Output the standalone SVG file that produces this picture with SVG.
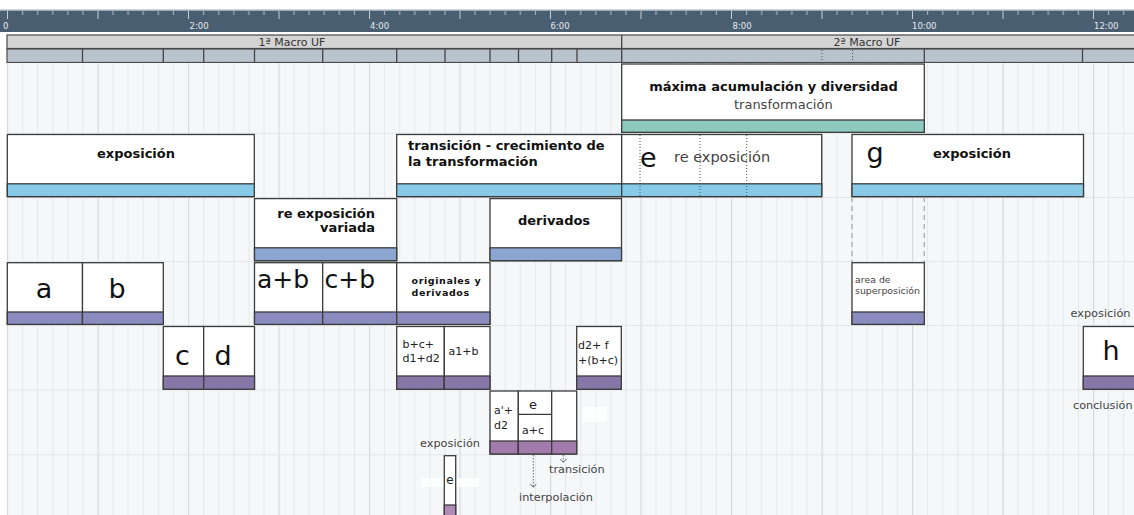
<svg xmlns="http://www.w3.org/2000/svg" width="1134" height="515" viewBox="0 0 1134 515">
<style>
text{font-family:"DejaVu Sans","Liberation Sans",sans-serif;}
.box{fill:#ffffff;stroke:#3c3c3c;stroke-width:1.3;}
.bar{stroke:#3c3c3c;stroke-width:1.3;}
.b0{fill:#8ec9c0;}.b1{fill:#88cbe9;}.b2{fill:#8ba6d0;}.b3{fill:#8a8cc0;}.b4{fill:#8777a9;}.b5{fill:#a27aab;}.b6{fill:#b28ab8;}
.tb{font-size:13px;font-weight:bold;fill:#111;}
.tn{font-size:13px;fill:#444;}
.big{font-size:27px;fill:#111;}
.mid{font-size:25px;fill:#111;}
.sm{font-size:11px;fill:#222;}
.lab{font-size:11.3px;fill:#444;}
.tick{font-size:8.5px;fill:#e6eaee;}
.hdr{font-size:11px;fill:#333;}
.div{stroke:#444;stroke-width:1.3;}
.dot{stroke:#555;stroke-width:1;stroke-dasharray:1,2;fill:none;}
.dash{stroke:#aaaaaa;stroke-width:1.3;stroke-dasharray:5,4;fill:none;}
.arr{stroke:#666;stroke-width:1;stroke-dasharray:1.5,1.5;fill:none;}
.chev{stroke:#666;stroke-width:1;fill:none;}
.hl{stroke:#e2e5e9;stroke-width:1;}
</style>
<defs>
<pattern id="grid" patternUnits="userSpaceOnUse" x="7" y="0" width="90.5" height="20">
<rect x="0" y="0" width="1.2" height="20" fill="#d6d9de"/>
<rect x="15.08" y="0" width="1" height="20" fill="#e3e6ea"/>
<rect x="30.17" y="0" width="1" height="20" fill="#e3e6ea"/>
<rect x="45.25" y="0" width="1" height="20" fill="#e3e6ea"/>
<rect x="60.33" y="0" width="1" height="20" fill="#e3e6ea"/>
<rect x="75.42" y="0" width="1" height="20" fill="#e3e6ea"/>
</pattern>
<pattern id="ticks" patternUnits="userSpaceOnUse" x="7" y="11" width="90.5" height="10">
<rect x="0" y="0" width="1" height="8" fill="#c4ccd4"/>
<rect x="15.08" y="0" width="1" height="4" fill="#b4bec8"/>
<rect x="30.17" y="0" width="1" height="4" fill="#b4bec8"/>
<rect x="45.25" y="0" width="1" height="4" fill="#b4bec8"/>
<rect x="60.33" y="0" width="1" height="4" fill="#b4bec8"/>
<rect x="75.42" y="0" width="1" height="4" fill="#b4bec8"/>
</pattern>
</defs>
<rect x="0" y="0" width="1134" height="515" fill="#ffffff"/>

<g id="ruler">
<rect x="0" y="10" width="1134" height="22" fill="#4a5e72"/>
<rect x="0" y="9.5" width="1134" height="1.5" fill="#9eaab6"/>
<rect x="0" y="11" width="1134" height="9" fill="url(#ticks)"/>
<text class="tick" x="3" y="29">0</text>
<text class="tick" x="189.5" y="29">2:00</text>
<text class="tick" x="370" y="29">4:00</text>
<text class="tick" x="550.5" y="29">6:00</text>
<text class="tick" x="732.5" y="29">8:00</text>
<text class="tick" x="912" y="29">10:00</text>
<text class="tick" x="1094" y="29">12:00</text>
</g>

<g id="macro-row">
<rect x="7" y="35" width="1130" height="13.5" fill="#d4d4d4" stroke="#4a4a4a" stroke-width="1.2"/>
<line class="div" x1="621.7" y1="35" x2="621.7" y2="48.5"/>
<text class="hdr" x="292" y="46.3" text-anchor="middle">1ª Macro UF</text>
<text class="hdr" x="867" y="46.3" text-anchor="middle">2ª Macro UF</text>
</g>

<g id="section-row">
<rect x="7" y="49" width="1130" height="13.5" fill="#b8c3cd" stroke="#4a4a4a" stroke-width="1.2"/>
<line class="div" x1="82.5" y1="49" x2="82.5" y2="62.5"/>
<line class="div" x1="163.3" y1="49" x2="163.3" y2="62.5"/>
<line class="div" x1="203.7" y1="49" x2="203.7" y2="62.5"/>
<line class="div" x1="254.5" y1="49" x2="254.5" y2="62.5"/>
<line class="div" x1="322.7" y1="49" x2="322.7" y2="62.5"/>
<line class="div" x1="396.7" y1="49" x2="396.7" y2="62.5"/>
<line class="div" x1="445" y1="49" x2="445" y2="62.5"/>
<line class="div" x1="490" y1="49" x2="490" y2="62.5"/>
<line class="div" x1="518.5" y1="49" x2="518.5" y2="62.5"/>
<line class="div" x1="551.7" y1="49" x2="551.7" y2="62.5"/>
<line class="div" x1="577" y1="49" x2="577" y2="62.5"/>
<line class="div" x1="621.7" y1="49" x2="621.7" y2="62.5"/>
<line class="div" x1="924.3" y1="49" x2="924.3" y2="62.5"/>
<line class="div" x1="1082.5" y1="49" x2="1082.5" y2="62.5"/>
<line class="dot" x1="822" y1="50" x2="822" y2="62"/>
<line class="dot" x1="852.5" y1="50" x2="852.5" y2="62"/>
</g>

<g id="grid-area">
<rect x="7" y="63" width="1127" height="452" fill="#f6f7f9"/>
<rect x="7" y="63" width="1127" height="452" fill="url(#grid)"/>
<line class="hl" x1="7" y1="133.3" x2="1134" y2="133.3"/>
<line class="hl" x1="7" y1="197.5" x2="1134" y2="197.5"/>
<line class="hl" x1="7" y1="261.6" x2="1134" y2="261.6"/>
<line class="hl" x1="7" y1="325.5" x2="1134" y2="325.5"/>
<line class="hl" x1="7" y1="390" x2="1134" y2="390"/>
<line class="hl" x1="7" y1="454.8" x2="1134" y2="454.8"/>
<rect x="582" y="407" width="25" height="15" fill="#ffffff" opacity="0.8"/>
<rect x="421" y="478" width="58" height="9" fill="#ffffff" opacity="0.8"/>
</g>

<g id="node-maxima">
<rect class="box" x="621.7" y="64" width="302.6" height="68.3"/>
<rect class="bar b0" x="621.7" y="120" width="302.6" height="12.3"/>
<text class="tb" x="773.5" y="90.5" text-anchor="middle">máxima acumulación y diversidad</text>
<text class="tn" x="783.3" y="108.5" text-anchor="middle">transformación</text>
</g>

<g id="node-exposicion-1">
<rect class="box" x="7.3" y="134.5" width="247" height="62.1"/>
<rect class="bar b1" x="7.3" y="183.8" width="247" height="12.8"/>
<text class="tb" x="136" y="157.5" text-anchor="middle">exposición</text>
</g>

<g id="node-transicion">
<rect class="box" x="396.7" y="134.5" width="225" height="62.1"/>
<rect class="bar b1" x="396.7" y="183.8" width="225" height="12.8"/>
<text class="tb" x="408" y="150">transición - crecimiento de</text>
<text class="tb" x="408" y="165.5">la transformación</text>
</g>

<g id="node-e-reexposicion">
<rect class="box" x="621.7" y="134.5" width="200" height="62.1"/>
<rect class="bar b1" x="621.7" y="183.8" width="200" height="12.8"/>
<line class="dot" x1="640" y1="135" x2="640" y2="196"/>
<line class="dot" x1="700" y1="135" x2="700" y2="196"/>
<line class="dot" x1="746.7" y1="135" x2="746.7" y2="196"/>
<text class="big" x="640" y="167">e</text>
<text class="tn" x="674" y="162" style="font-size:14.5px">re exposición</text>
</g>

<g id="node-g-exposicion">
<rect class="box" x="852" y="134.5" width="231.5" height="62.1"/>
<rect class="bar b1" x="852" y="183.8" width="231.5" height="12.8"/>
<text class="big" x="866.5" y="162">g</text>
<text class="tb" x="933" y="157.5">exposición</text>
</g>

<g id="node-reexposicion-variada">
<rect class="box" x="254.5" y="198.6" width="142.2" height="62.1"/>
<rect class="bar b2" x="254.5" y="247.8" width="142.2" height="12.9"/>
<text class="tb" x="375" y="218" text-anchor="end">re exposición</text>
<text class="tb" x="375" y="232.3" text-anchor="end">variada</text>
</g>

<g id="node-derivados">
<rect class="box" x="490" y="198.6" width="131.5" height="62.1"/>
<rect class="bar b2" x="490" y="247.8" width="131.5" height="12.9"/>
<text class="tb" x="554" y="225" text-anchor="middle">derivados</text>
</g>

<g id="node-a">
<rect class="box" x="7.3" y="262.7" width="75.2" height="61.7"/>
<rect class="bar b3" x="7.3" y="312" width="75.2" height="12.4"/>
<text class="big" x="44" y="298" text-anchor="middle">a</text>
</g>
<g id="node-b">
<rect class="box" x="82.5" y="262.7" width="80.8" height="61.7"/>
<rect class="bar b3" x="82.5" y="312" width="80.8" height="12.4"/>
<text class="big" x="117" y="298" text-anchor="middle">b</text>
</g>
<g id="node-a-b">
<rect class="box" x="254.5" y="262.7" width="68.2" height="61.7"/>
<rect class="bar b3" x="254.5" y="312" width="68.2" height="12.4"/>
<text class="mid" x="257" y="288">a+b</text>
</g>
<g id="node-c-b">
<rect class="box" x="322.7" y="262.7" width="74" height="61.7"/>
<rect class="bar b3" x="322.7" y="312" width="74" height="12.4"/>
<text class="mid" x="324.5" y="288">c+b</text>
</g>
<g id="node-originales">
<rect class="box" x="396.7" y="262.7" width="93.3" height="61.7"/>
<rect class="bar b3" x="396.7" y="312" width="93.3" height="12.4"/>
<text class="tb" x="411.5" y="283.5" style="font-size:9.5px;letter-spacing:0.6px">originales y</text>
<text class="tb" x="411.5" y="296" style="font-size:9.5px;letter-spacing:0.6px">derivados</text>
</g>
<g id="node-area-superposicion">
<rect class="box" x="852" y="262.7" width="72.3" height="61.7"/>
<rect class="bar b3" x="852" y="312" width="72.3" height="12.4"/>
<text x="855" y="282.5" style="font-size:9.4px;fill:#444">area de</text>
<text x="855" y="294" style="font-size:9.4px;fill:#444">superposición</text>
</g>

<g id="node-c">
<rect class="box" x="163.3" y="326.5" width="40.4" height="62.7"/>
<rect class="bar b4" x="163.3" y="376" width="40.4" height="13.2"/>
<text class="big" x="182.5" y="365" text-anchor="middle">c</text>
</g>
<g id="node-d">
<rect class="box" x="203.7" y="326.5" width="50.8" height="62.7"/>
<rect class="bar b4" x="203.7" y="376" width="50.8" height="13.2"/>
<text class="big" x="223" y="365" text-anchor="middle">d</text>
</g>
<g id="node-bcd1d2">
<rect class="box" x="396.7" y="326.5" width="47.6" height="62.7"/>
<rect class="bar b4" x="396.7" y="376" width="47.6" height="13.2"/>
<text class="sm" x="402.5" y="347.5">b+c+</text>
<text class="sm" x="402.5" y="362">d1+d2</text>
</g>
<g id="node-a1b">
<rect class="box" x="444.3" y="326.5" width="45.7" height="62.7"/>
<rect class="bar b4" x="444.3" y="376" width="45.7" height="13.2"/>
<text class="sm" x="448.5" y="355">a1+b</text>
</g>
<g id="node-d2f">
<rect class="box" x="576.7" y="326.5" width="44.6" height="62.7"/>
<rect class="bar b4" x="576.7" y="376" width="44.6" height="13.2"/>
<text class="sm" x="578" y="349">d2+ f</text>
<text class="sm" x="578" y="364">+(b+c)</text>
</g>
<g id="node-h">
<rect class="box" x="1083.3" y="326.5" width="60" height="62.7"/>
<rect class="bar b4" x="1083.3" y="376" width="60" height="13.2"/>
<text class="big" x="1111" y="360" text-anchor="middle">h</text>
</g>

<g id="node-a-d2">
<rect class="box" x="490" y="391" width="28.3" height="63"/>
<rect class="bar b5" x="490" y="441" width="28.3" height="13"/>
<text class="sm" x="494" y="414">a'+</text>
<text class="sm" x="494" y="429">d2</text>
</g>
<g id="node-e-ac">
<rect class="box" x="518.3" y="391" width="33.4" height="63"/>
<line x1="518.3" y1="414.3" x2="551.7" y2="414.3" stroke="#3c3c3c" stroke-width="1.3"/>
<rect class="bar b5" x="518.3" y="441" width="33.4" height="13"/>
<text class="sm" x="533" y="408.5" text-anchor="middle" style="font-size:13px">e</text>
<text class="sm" x="533" y="434" text-anchor="middle">a+c</text>
</g>
<g id="node-empty">
<rect class="box" x="551.7" y="391" width="25" height="63"/>
<rect class="bar b5" x="551.7" y="441" width="25" height="13"/>
</g>

<g id="node-e-small">
<rect class="box" x="444.3" y="455.7" width="11.4" height="62"/>
<rect class="bar b6" x="444.3" y="505" width="11.4" height="12"/>
<text class="sm" x="450" y="484" text-anchor="middle" style="font-size:12px">e</text>
</g>

<g id="labels">
<text class="lab" x="1070.5" y="316.5">exposición</text>
<text class="lab" x="1073" y="409" textLength="59.5" lengthAdjust="spacingAndGlyphs">conclusión</text>
<text class="lab" x="420" y="447">exposición</text>
<text class="lab" x="549" y="473">transición</text>
<text class="lab" x="519" y="500.5">interpolación</text>
</g>

<g id="connectors">
<line class="dash" x1="852" y1="197" x2="852" y2="262"/>
<line class="dash" x1="924.3" y1="197" x2="924.3" y2="262"/>
<line class="arr" x1="533.3" y1="455" x2="533.3" y2="487"/>
<path class="chev" d="M530.3,484 L533.3,487.3 L536.3,484"/>
<line class="arr" x1="563.3" y1="455" x2="563.3" y2="462"/>
<path class="chev" d="M560.3,459 L563.3,462.3 L566.3,459"/>
</g>
</svg>
